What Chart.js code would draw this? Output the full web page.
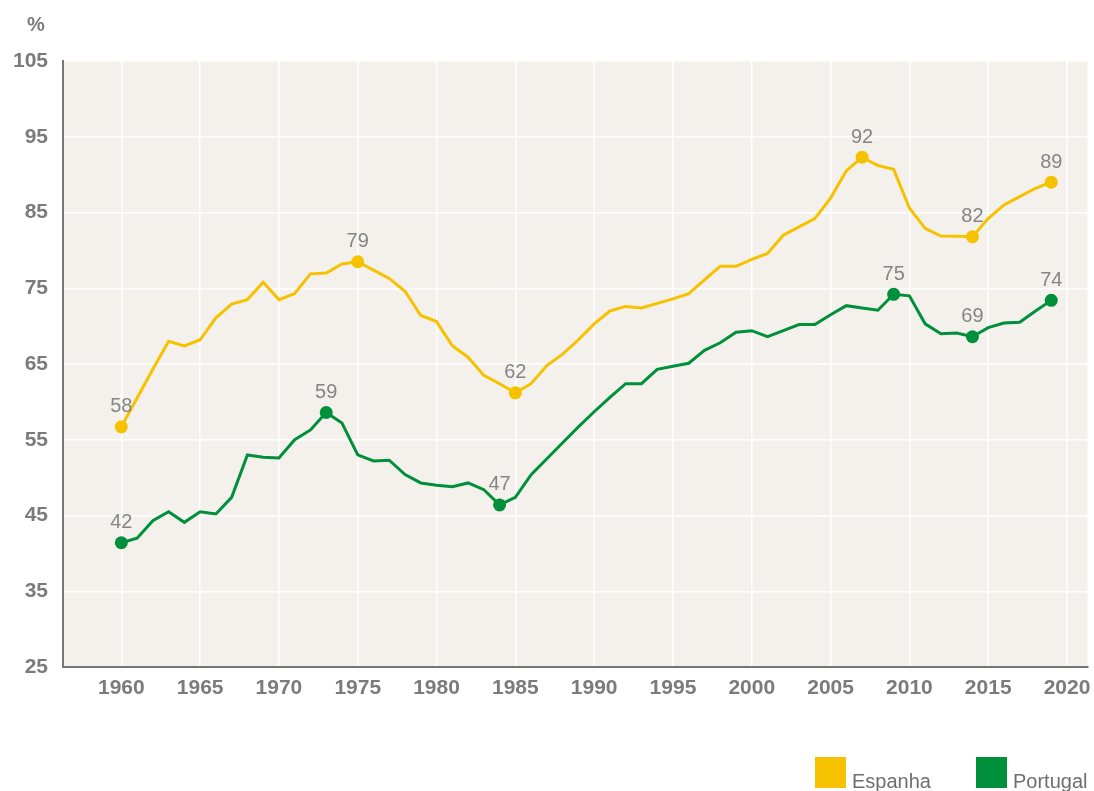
<!DOCTYPE html>
<html>
<head>
<meta charset="utf-8">
<script src="https://cdn.jsdelivr.net/npm/chart.js@4.4.1/dist/chart.umd.min.js"></script>
<style>
  body { margin: 0; background: #fff; }
  #wrap { position: relative; width: 1094px; height: 791px; }
</style>
</head>
<body>
<div id="wrap"><canvas id="myChart" width="1094" height="791"></canvas></div>
<script>
// Years on the x axis
const years = [1960, 1961, 1962, 1963, 1964, 1965, 1966, 1967, 1968, 1969,
  1970, 1971, 1972, 1973, 1974, 1975, 1976, 1977, 1978, 1979,
  1980, 1981, 1982, 1983, 1984, 1985, 1986, 1987, 1988, 1989,
  1990, 1991, 1992, 1993, 1994, 1995, 1996, 1997, 1998, 1999,
  2000, 2001, 2002, 2003, 2004, 2005, 2006, 2007, 2008, 2009,
  2010, 2011, 2012, 2013, 2014, 2015, 2016, 2017, 2018, 2019];

// Series values (%)
const espanha = [56.7, 60.5, 64.3, 68.0, 67.4, 68.2, 71.1, 72.9, 73.5, 75.8,
  73.5, 74.3, 76.9, 77.0, 78.2, 78.5, 77.4, 76.3, 74.6, 71.4,
  70.6, 67.4, 65.9, 63.5, 62.4, 61.2, 62.4, 64.8, 66.3, 68.2,
  70.3, 72.0, 72.6, 72.4, 73.0, 73.6, 74.3, 76.1, 77.9, 77.9,
  78.8, 79.6, 82.0, 83.1, 84.2, 86.9, 90.5, 92.3, 91.2, 90.7,
  85.6, 82.9, 81.9, 81.85, 81.8, 84.2, 86.0, 87.1, 88.2, 89.0];

const portugal = [41.4, 42.0, 44.3, 45.5, 44.1, 45.5, 45.2, 47.4, 53.0, 52.7,
  52.6, 55.0, 56.3, 58.6, 57.2, 53.0, 52.2, 52.3, 50.4, 49.3,
  49.0, 48.8, 49.3, 48.4, 46.4, 47.4, 50.4, 52.5, 54.6, 56.7,
  58.7, 60.6, 62.4, 62.4, 64.3, 64.7, 65.1, 66.8, 67.8, 69.2,
  69.4, 68.6, 69.4, 70.2, 70.2, 71.5, 72.7, 72.4, 72.1, 74.2,
  74.0, 70.3, 69.0, 69.1, 68.6, 69.8, 70.4, 70.5, 72.0, 73.4];

// Highlighted points and their labels
const espanhaMarked = [1960, 1975, 1985, 2007, 2014, 2019];
const espanhaLabels = ['58', '79', '62', '92', '82', '89'];
const portugalMarked = [1960, 1973, 1984, 2009, 2014, 2019];
const portugalLabels = ['42', '59', '47', '75', '69', '74'];

// Tick labels
const xTicks = [1960, 1965, 1970, 1975, 1980, 1985, 1990, 1995, 2000, 2005, 2010, 2015, 2020];
const yTicks = [25, 35, 45, 55, 65, 75, 85, 95, 105];

const seriesNames = ['Espanha', 'Portugal'];
const colors = ['#f6c200', '#008f3a'];

const FONT = '"Liberation Sans", Arial, Helvetica, sans-serif';

const toPoints = vals => vals.map((v, i) => ({ x: years[i], y: v }));

function markRadius(marked) {
  return ctx => marked.includes(years[ctx.dataIndex]) ? 6.5 : 0;
}

const decor = {
  id: 'decor',
  beforeDraw(chart) {
    const { ctx, chartArea: a } = chart;
    ctx.save();
    ctx.fillStyle = '#f4f1ec';
    ctx.fillRect(a.left, a.top, a.right - a.left, a.bottom - a.top);
    ctx.restore();
  },
  afterDatasetsDraw(chart) {
    const { ctx } = chart;
    const sets = [[espanhaMarked, espanhaLabels], [portugalMarked, portugalLabels]];
    ctx.save();
    ctx.font = '20px ' + FONT;
    ctx.fillStyle = '#858585';
    ctx.textAlign = 'center';
    ctx.textBaseline = 'middle';
    sets.forEach(([marked, labels], d) => {
      const meta = chart.getDatasetMeta(d);
      marked.forEach((yr, k) => {
        const pt = meta.data[years.indexOf(yr)];
        ctx.fillText(labels[k], pt.x, pt.y - 20);
      });
    });
    ctx.restore();
  },
  afterDraw(chart) {
    const { ctx } = chart;
    ctx.save();
    // unit label
    ctx.font = 'bold 20px ' + FONT;
    ctx.fillStyle = '#7b7b7b';
    ctx.textAlign = 'center';
    ctx.textBaseline = 'middle';
    ctx.fillText('%', 36, 25);
    // legend
    const boxX = [815, 976];
    ctx.font = '20px ' + FONT;
    ctx.textAlign = 'left';
    ctx.textBaseline = 'alphabetic';
    seriesNames.forEach((name, i) => {
      ctx.fillStyle = colors[i];
      ctx.fillRect(boxX[i], 757, 31, 31);
      ctx.fillStyle = '#6e6e6e';
      ctx.fillText(name, boxX[i] + 37, 788);
    });
    ctx.restore();
  }
};

const ctx = document.getElementById('myChart').getContext('2d');
const myChart = new Chart(ctx, {
  type: 'line',
  data: {
    datasets: [{
      label: seriesNames[0],
      data: toPoints(espanha),
      borderColor: colors[0],
      backgroundColor: colors[0],
      borderWidth: 3,
      pointRadius: markRadius(espanhaMarked),
      pointBackgroundColor: colors[0],
      pointBorderWidth: 0,
      tension: 0
    }, {
      label: seriesNames[1],
      data: toPoints(portugal),
      borderColor: colors[1],
      backgroundColor: colors[1],
      borderWidth: 3,
      pointRadius: markRadius(portugalMarked),
      pointBackgroundColor: colors[1],
      pointBorderWidth: 0,
      tension: 0
    }]
  },
  options: {
    responsive: false,
    animation: false,
    events: [],
    layout: { padding: { top: 61, right: 0, left: 0, bottom: 0 } },
    plugins: {
      legend: { display: false },
      tooltip: { enabled: false }
    },
    scales: {
      x: {
        type: 'linear',
        min: 1956.3,
        max: 2021.3,
        afterBuildTicks: s => { s.ticks = xTicks.map(v => ({ value: v })); },
        afterFit: s => { s.height = 124; s.paddingLeft = 0; s.paddingRight = 0; },
        ticks: {
          autoSkip: false,
          maxRotation: 0,
          padding: 9,
          color: '#7b7b7b',
          font: { family: FONT, size: 21, weight: 'bold' },
          callback: v => String(v)
        },
        grid: { color: '#ffffff', lineWidth: 1.5, drawTicks: false },
        border: { display: true, color: '#777777', width: 2 }
      },
      y: {
        min: 25,
        max: 105,
        afterBuildTicks: s => { s.ticks = yTicks.map(v => ({ value: v })); },
        afterFit: s => { s.width = 63; s.paddingTop = 0; s.paddingBottom = 0; },
        ticks: {
          padding: 15,
          color: '#7b7b7b',
          font: { family: FONT, size: 21, weight: 'bold' },
          callback: v => String(v)
        },
        grid: {
          color: c => (c.tick && c.tick.value === 25) ? 'rgba(0,0,0,0)' : '#ffffff',
          lineWidth: 1.5,
          drawTicks: false
        },
        border: { display: true, color: '#777777', width: 2 }
      }
    }
  },
  plugins: [decor]
});
</script>
</body>
</html>
